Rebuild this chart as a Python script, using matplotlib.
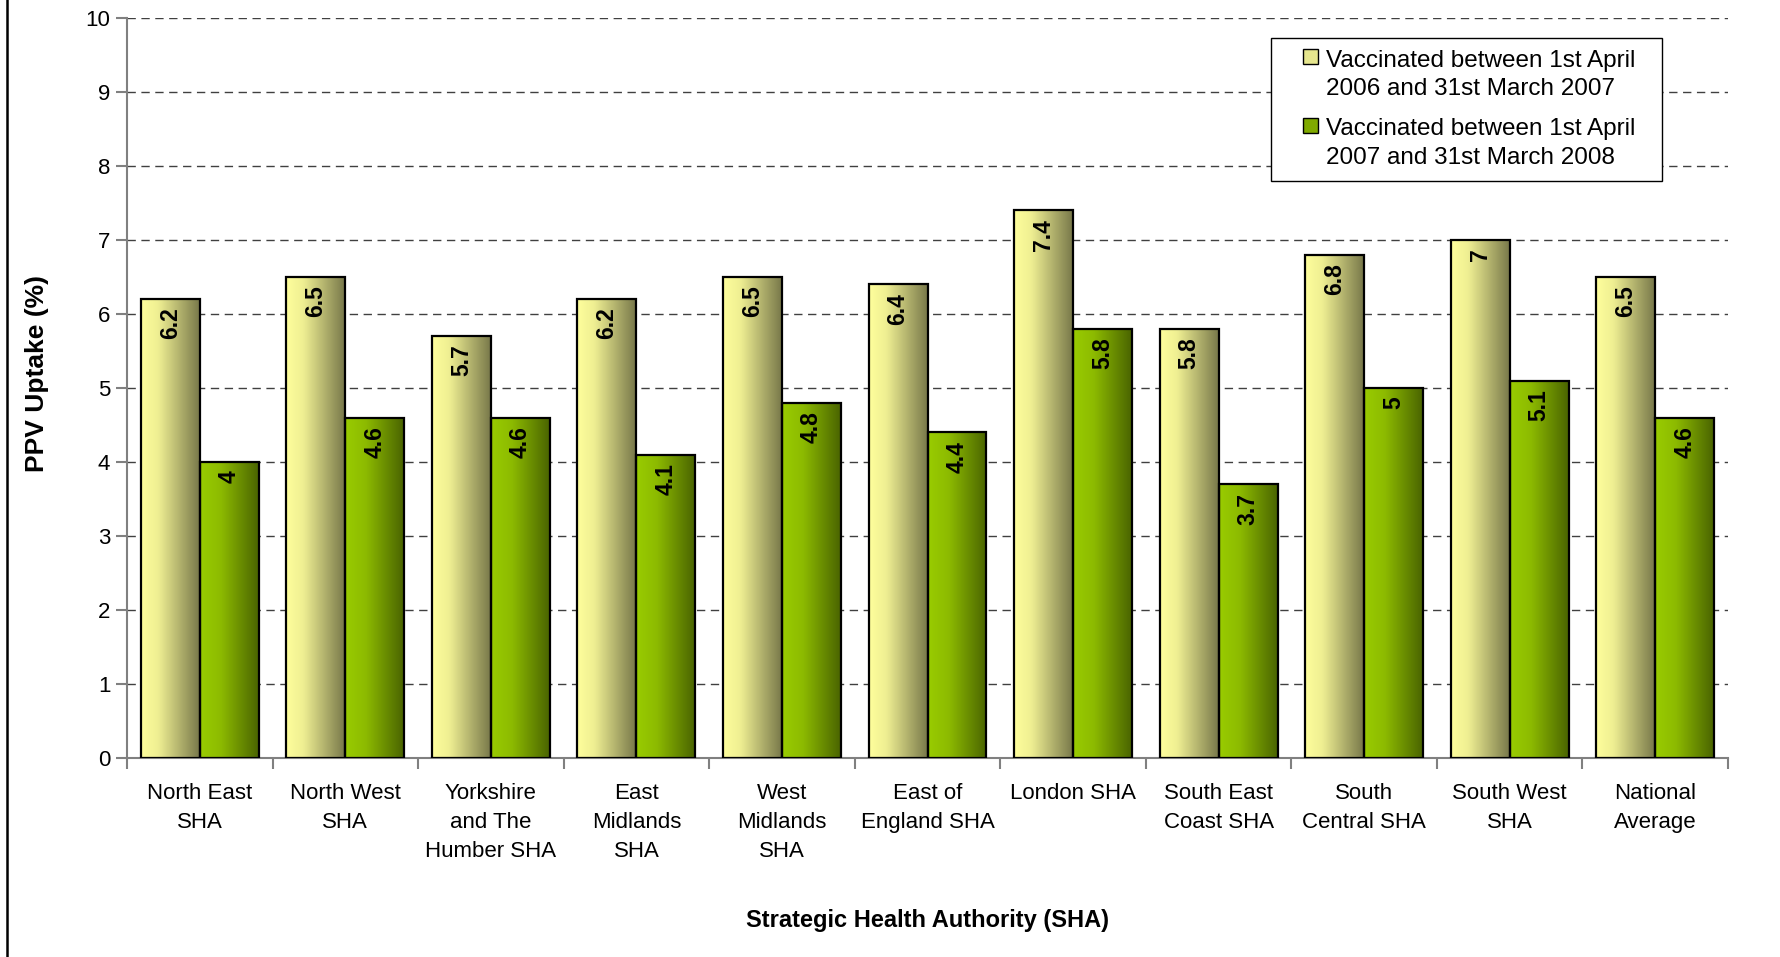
import numpy as np
import matplotlib
matplotlib.use('Agg')
from matplotlib import pyplot as plt
from matplotlib.colors import LinearSegmentedColormap
from matplotlib.patches import Patch, Rectangle
from matplotlib.lines import Line2D
from matplotlib.legend_handler import HandlerPatch

regions = ['North East\nSHA', 'North West\nSHA', 'Yorkshire\nand The\nHumber SHA',
           'East\nMidlands\nSHA', 'West\nMidlands\nSHA', 'East of\nEngland SHA',
           'London SHA', 'South East\nCoast SHA', 'South\nCentral SHA',
           'South West\nSHA', 'National\nAverage']
uptake_0607 = [6.2, 6.5, 5.7, 6.2, 6.5, 6.4, 7.4, 5.8, 6.8, 7.0, 6.5]
uptake_0708 = [4.0, 4.6, 4.6, 4.1, 4.8, 4.4, 5.8, 3.7, 5.0, 5.1, 4.6]
series_names = ['Vaccinated between 1st April\n2006 and 31st March 2007',
                'Vaccinated between 1st April\n2007 and 31st March 2008']

plt.rcParams['font.family'] = ['Liberation Sans', 'DejaVu Sans']

yellow = LinearSegmentedColormap.from_list('yel', [(0, '#FFFF9C'), (0.3, '#EEEE92'), (1, '#78784A')])
green = LinearSegmentedColormap.from_list('grn', [(0, '#99CC00'), (0.35, '#8DBB00'), (1, '#4A6400')])

fig = plt.figure(figsize=(17.8, 9.57), dpi=100)
ax = fig.add_axes([127 / 1780, 1 - 758 / 957, 1601 / 1780, 740 / 957])

x = np.arange(len(regions))
w = 0.405
grad = np.linspace(0, 1, 256).reshape(1, -1)

for vals, off, cmap in [(uptake_0607, -w / 2, yellow), (uptake_0708, w / 2, green)]:
    bars = ax.bar(x + off, vals, w, facecolor='none', edgecolor='black', linewidth=1.6, zorder=3)
    for b, v in zip(bars, vals):
        x0, y0 = b.get_xy()
        ax.imshow(grad, cmap=cmap, extent=[x0, x0 + b.get_width(), y0, y0 + b.get_height()],
                  aspect='auto', zorder=2.5, interpolation='bicubic')
        ax.annotate(f'{v:g}', (x0 + b.get_width() / 2, v), xytext=(0, -6), textcoords='offset points',
                    ha='center', va='top', rotation=90, fontsize=16.5, fontweight='bold', zorder=4)

ax.set_xlim(-0.5, len(regions) - 0.5)
ax.set_ylim(0, 10)
ax.set_yticks(range(0, 11))
ax.set_xticks(x)
ax.set_xticklabels(regions, fontsize=16, linespacing=1.5)
ax.set_xticks(np.arange(-0.5, len(regions)), minor=True)
ax.tick_params(axis='x', which='major', length=0, pad=18)
ax.tick_params(axis='x', which='minor', length=8, color='#808080', width=1.5)
ax.tick_params(axis='y', length=8, color='#808080', width=1.5, labelsize=16, pad=4)

ax.yaxis.grid(True, linestyle=(0, (6, 4)), color='#404040', linewidth=1)
ax.set_axisbelow(True)
for s in ['top', 'right']:
    ax.spines[s].set_visible(False)
for s in ['left', 'bottom']:
    ax.spines[s].set_color('#808080')
    ax.spines[s].set_linewidth(1.5)

ax.set_ylabel('PPV Uptake (%)', fontsize=19, fontweight='bold')
ax.yaxis.set_label_coords(-0.049, 0.52)
ax.set_xlabel('Strategic Health Authority (SHA)', fontsize=17, fontweight='bold')
ax.xaxis.set_label_coords(0.5, -0.22)
ax.xaxis.label.set_va('center')


def top_square(legend, orig_handle, xdescent, ydescent, width, height, fontsize):
    # square beside the first line of a two-line label
    s = 0.6 * fontsize
    yc = 1.09 * fontsize
    return Rectangle((-xdescent + width - s, yc - s / 2), s, s)


handles = [Patch(facecolor='#E6E68E', edgecolor='black'), Patch(facecolor='#80AA00', edgecolor='black')]
leg = ax.legend(handles, series_names, loc='upper left',
                bbox_to_anchor=((1271 - 127) / 1601, (758 - 37.5) / 740, 391 / 1601, 0),
                mode='expand', borderaxespad=0,
                fontsize=17.5, fancybox=False, edgecolor='black', framealpha=1,
                handlelength=1.42, handleheight=0.7, handletextpad=0.33, labelspacing=0.77,
                borderpad=0.5, handler_map={Patch: HandlerPatch(patch_func=top_square)})
leg.get_frame().set_linewidth(1)
for t in leg.get_texts():
    t.set_linespacing(1.36)

fig.add_artist(Line2D([7 / 1780, 7 / 1780], [0, 1], transform=fig.transFigure, color='black', lw=1.8))

plt.savefig('out.png', dpi=100)
